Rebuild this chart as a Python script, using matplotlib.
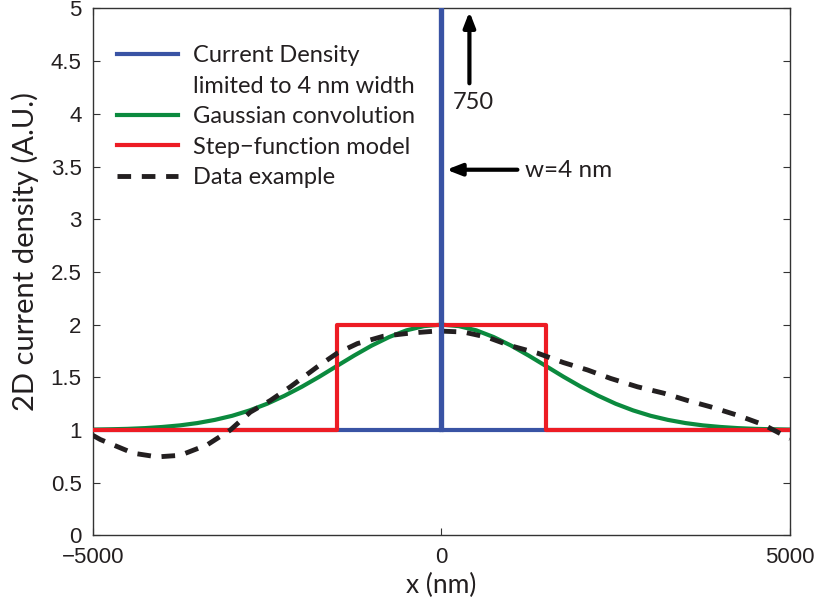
import numpy as np
import matplotlib
matplotlib.use('Agg')
import matplotlib.pyplot as plt
from matplotlib.lines import Line2D

# current density: flat at 1 with a 4 nm wide spike reaching 750
cd_x = [-5000, -2, -2, 2, 2, 5000]
cd_y = [1, 1, 750, 750, 1, 1]

# gaussian convolution, sampled every 250 nm
g_x = np.arange(-5000, 5001, 250)
g_half = [1.004, 1.007, 1.011, 1.018, 1.029, 1.044, 1.066, 1.096, 1.135, 1.186,
          1.249, 1.325, 1.411, 1.506, 1.607, 1.707, 1.801, 1.882, 1.946, 1.986]
g_y = g_half + [2.000] + g_half[::-1]

# step-function model
step_x = [-5000, -1500, -1500, 1500, 1500, 5000]
step_y = [1, 1, 2, 2, 1, 1]

# measured data example
data_x = [-5000, -4892, -4419, -4075, -3745, -3357, -3027, -2740, -2453, -2166,
          -1779, -1492, -1205, -832, -445, -57, 316, 660, 990, 1377, 1750,
          2095, 2425, 2812, 3185, 3530, 3860, 4247, 4620, 4964, 5000]
data_y = [0.95, 0.91, 0.78, 0.745, 0.76, 0.86, 1.0, 1.17, 1.28, 1.41,
          1.6, 1.73, 1.82, 1.89, 1.92, 1.94, 1.93, 1.88, 1.80, 1.73, 1.64,
          1.57, 1.49, 1.41, 1.35, 1.28, 1.22, 1.14, 1.05, 0.93, 0.92]

yticks = np.arange(0, 5.01, 0.5)
ytick_labels = ['0', '0.5', '1', '1.5', '2', '2.5', '3', '3.5', '4', '4.5', '5']
xticks = [-5000, 0, 5000]
xtick_labels = ['\u22125000', '0', '5000']

blue = '#3953A4'
green = '#0B8A3E'
red = '#ED1C24'
dark = '#231F20'

txt_font = ['Lato', 'DejaVu Sans']
tick_font = ['Liberation Sans Narrow', 'Liberation Sans', 'DejaVu Sans']

fig = plt.figure(figsize=(8.17, 6.06), dpi=100)
ax = fig.add_axes([0.1135, 0.1165, 0.8535, 0.8695])

lw = 3.0
ax.plot(cd_x, cd_y, color=blue, lw=lw, zorder=1)
ax.plot(g_x, g_y, color=green, lw=lw, zorder=2)
ax.plot(step_x, step_y, color=red, lw=lw, zorder=3)
ax.plot(data_x, data_y, color=dark, lw=3.5, ls=(0, (2.8, 2.2)), zorder=4)
# spike drawn again so it sits over the step top
ax.plot(cd_x[1:5], cd_y[1:5], color=blue, lw=lw, zorder=5)

ax.set_xlim(-5000, 5000)
ax.set_ylim(0, 5)
ax.set_xticks(xticks)
ax.set_xticklabels(xtick_labels)
ax.set_yticks(yticks)
ax.set_yticklabels(ytick_labels)
ax.tick_params(direction='in', top=True, right=True, length=5, width=0.8,
               colors='#333333', labelcolor=dark, labelsize=16)
ax.tick_params(axis='x', pad=8)
ax.tick_params(axis='y', pad=8)
for lab in ax.get_xticklabels() + ax.get_yticklabels():
    lab.set_family(tick_font)
for sp in ax.spines.values():
    sp.set_linewidth(1.0)
    sp.set_color('#333333')

ax.set_xlabel('x (nm)', fontsize=19, family=txt_font, color=dark, labelpad=4)
ax.set_ylabel('2D current density (A.U.)', fontsize=21, family=txt_font,
              color=dark)
ax.yaxis.set_label_coords(-0.077, 0.539)

# arrows and notes around the spike
ax.annotate('', xy=(402, 4.97), xytext=(402, 4.29),
            arrowprops=dict(arrowstyle='-|>,head_length=0.9,head_width=0.35',
                            color='black', lw=3, shrinkA=0, shrinkB=0))
ax.text(459, 4.11, '750', fontsize=17, family=txt_font, color=dark,
        ha='center', va='center')
ax.annotate('', xy=(72, 3.47), xytext=(1090, 3.47),
            arrowprops=dict(arrowstyle='-|>,head_length=0.9,head_width=0.35',
                            color='black', lw=3, shrinkA=0, shrinkB=0))
ax.text(1205, 3.46, 'w=4 nm', fontsize=17.5, family=txt_font, color=dark,
        ha='left', va='center')

handles = [Line2D([], [], color=blue, lw=lw),
           Line2D([], [], color='none', lw=lw),
           Line2D([], [], color=green, lw=lw),
           Line2D([], [], color=red, lw=lw),
           Line2D([], [], color=dark, lw=3.5, ls=(0, (2.8, 2.2)))]
labels = ['Current Density', 'limited to 4 nm width', 'Gaussian convolution',
          'Step\u2212function model', 'Data example']
leg = ax.legend(handles, labels, loc='upper left', frameon=False,
                prop={'family': txt_font, 'size': 17}, handlelength=2.6,
                handletextpad=0.64, labelspacing=0.4,
                bbox_to_anchor=(0.021, 0.948), borderaxespad=0.0)
for t in leg.get_texts():
    t.set_color(dark)

fig.savefig('out.png', dpi=100)
